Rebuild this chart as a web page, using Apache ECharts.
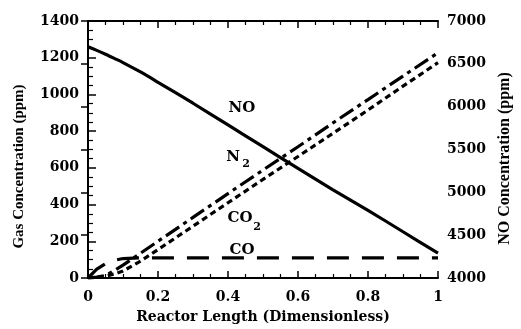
<!DOCTYPE html>
<html>
<head>
<meta charset="utf-8">
<script src="https://cdn.jsdelivr.net/npm/echarts@6/dist/echarts.min.js"></script>
<style>html,body{margin:0;padding:0;background:#fff}#c{width:521px;height:329px}</style>
</head>
<body>
<div id="c"></div>
<script>
// Reactor length positions (dimensionless)
var xs = [0, 0.025, 0.05, 0.075, 0.1, 0.15, 0.2, 0.3, 0.4, 0.5, 0.6, 0.7, 0.8, 0.9, 1.0];
// NO concentration (right axis, ppm)
var noVals  = [6700, 6657, 6612, 6564, 6515, 6405, 6285, 6040, 5787, 5533, 5280, 5030, 4790, 4540, 4290];
// N2, CO2, CO concentrations (left axis, ppm)
var n2Vals  = [0, 5, 14, 40, 70, 135, 200, 330, 460, 588, 715, 845, 972, 1100, 1227];
var co2Vals = [0, 2, 10, 22, 38, 92, 155, 282, 410, 537, 662, 788, 915, 1045, 1173];
var coVals  = [0, 48, 78, 96, 106, 110, 110, 110, 110, 110, 110, 110, 110, 110, 110];
var leftTicks = [0, 200, 400, 600, 800, 1000, 1200, 1400];
var rightTicks = [4000, 4500, 5000, 5500, 6000, 6500, 7000];
var xTicks = [0, 0.2, 0.4, 0.6, 0.8, 1];

function pairs(v){ return xs.map(function(x,i){ return [x, v[i]]; }); }
function plain(v){ return String(Math.round(v)); }
function xfmt(v){ var r = Math.round(v*10)/10; return (r === 0 || r === 1) ? String(r) : r.toFixed(1); }

var tickFont = {fontFamily:'DejaVu Serif', fontWeight:'bold', fontSize:14, color:'#000'};
var chart = echarts.init(document.getElementById('c'), null, {renderer:'canvas'});
var axisLine = {show:true, lineStyle:{color:'#000', width:2}};
chart.setOption({
  animation:false,
  backgroundColor:'#fff',
  grid:{left:88, right:82, top:21, bottom:49, containLabel:false},
  xAxis:[{
    type:'value', min:xTicks[0], max:xTicks[xTicks.length-1], interval:0.2, position:'bottom',
    axisLine:axisLine, splitLine:{show:false},
    axisTick:{show:true, inside:true, length:7, lineStyle:{color:'#000', width:1.5}},
    minorTick:{show:true, splitNumber:4, length:4, lineStyle:{color:'#000', width:1.2}},
    axisLabel:Object.assign({margin:12, formatter:xfmt}, tickFont),
    name:'Reactor Length (Dimensionless)', nameLocation:'middle', nameGap:32,
    nameTextStyle:{fontFamily:'DejaVu Serif', fontWeight:'bold', fontSize:14, color:'#000'}
  },{
    type:'value', min:0, max:1, interval:0.2, position:'top',
    axisLine:axisLine, splitLine:{show:false},
    axisTick:{show:true, inside:true, length:7, lineStyle:{color:'#000', width:1.5}},
    minorTick:{show:true, splitNumber:4, length:4, lineStyle:{color:'#000', width:1.2}},
    axisLabel:{show:false}
  }],
  yAxis:[{
    type:'value', min:leftTicks[0], max:leftTicks[leftTicks.length-1], interval:200, position:'left',
    axisLine:axisLine, splitLine:{show:false},
    axisTick:{show:true, inside:true, length:8, lineStyle:{color:'#000', width:1.5}},
    minorTick:{show:true, splitNumber:4, length:5, lineStyle:{color:'#000', width:1.2}},
    axisLabel:Object.assign({margin:9, formatter:plain}, tickFont),
    name:'Gas Concentration (ppm)', nameLocation:'middle', nameGap:61, nameRotate:90,
    nameTextStyle:{fontFamily:'Liberation Serif', fontWeight:'bold', fontSize:15, color:'#000', padding:[0,34,0,0]}
  },{
    type:'value', min:rightTicks[0], max:rightTicks[rightTicks.length-1], interval:500, position:'right',
    axisLine:axisLine, splitLine:{show:false},
    axisTick:{show:true, inside:true, length:7, lineStyle:{color:'#000', width:1.5}},
    axisLabel:Object.assign({margin:9, formatter:plain}, tickFont),
    name:'NO Concentration (ppm)', nameLocation:'middle', nameGap:59, nameRotate:90,
    nameTextStyle:{fontFamily:'Liberation Serif', fontWeight:'bold', fontSize:16, color:'#000', padding:[0,18,0,0]}
  }],
  series:[
    {name:'NO', type:'line', yAxisIndex:1, data:pairs(noVals), showSymbol:false, smooth:0.3,
     lineStyle:{color:'#000', width:3.2, type:'solid'}},
    {name:'N2', type:'line', yAxisIndex:0, data:pairs(n2Vals), showSymbol:false, smooth:false,
     lineStyle:{color:'#000', width:3.2, type:[16,5,4,5]}},
    {name:'CO2', type:'line', yAxisIndex:0, data:pairs(co2Vals), showSymbol:false, smooth:false,
     lineStyle:{color:'#000', width:3.2, type:[6,4]}},
    {name:'CO', type:'line', yAxisIndex:0, data:pairs(coVals), showSymbol:false, smooth:false,
     lineStyle:{color:'#000', width:3.2, type:[22,13]}}
  ],
  graphic:[
    {type:'text', x:242, y:108, style:{text:'NO', font:'bold 15px "DejaVu Serif"', fill:'#000', align:'center', verticalAlign:'middle'}},
    {type:'text', x:233, y:157, style:{text:'N', font:'bold 15px "DejaVu Serif"', fill:'#000', align:'center', verticalAlign:'middle'}},
    {type:'text', x:246, y:164, style:{text:'2', font:'bold 11px "DejaVu Serif"', fill:'#000', align:'center', verticalAlign:'middle'}},
    {type:'text', x:240, y:218, style:{text:'CO', font:'bold 15px "DejaVu Serif"', fill:'#000', align:'center', verticalAlign:'middle'}},
    {type:'text', x:257, y:227, style:{text:'2', font:'bold 11px "DejaVu Serif"', fill:'#000', align:'center', verticalAlign:'middle'}},
    {type:'text', x:242, y:250, style:{text:'CO', font:'bold 15px "DejaVu Serif"', fill:'#000', align:'center', verticalAlign:'middle'}}
  ]
});
</script>
</body>
</html>
